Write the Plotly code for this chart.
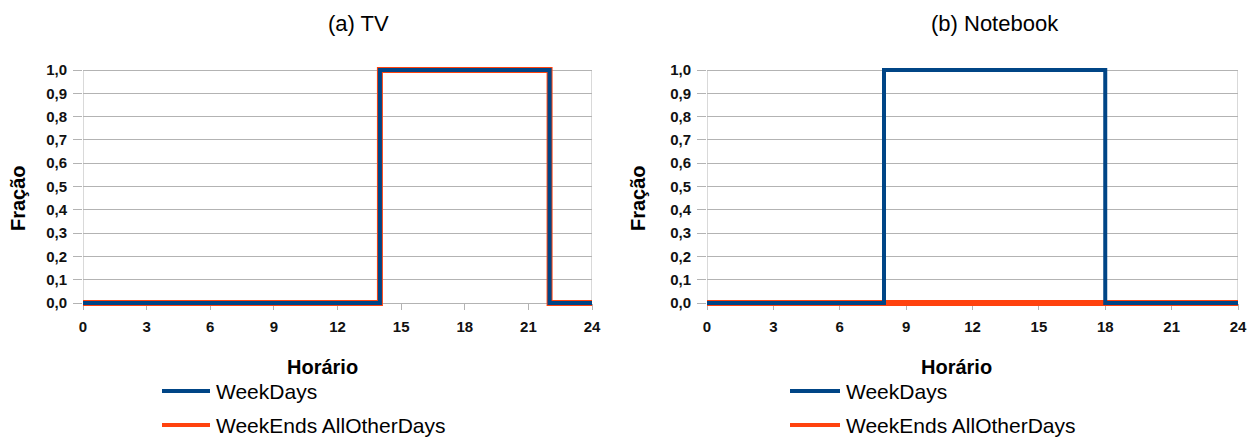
import plotly.graph_objects as go

hours = list(range(25))
tv_weekdays = [0]*14 + [1]*8 + [0]*2
tv_weekends = [0]*14 + [1]*8 + [0]*2
nb_weekdays = [0]*8 + [1]*10 + [0]*6
nb_weekends = [0]*24
# repeat last value so the step reaches hour 24
tv_weekdays.append(tv_weekdays[-1]); tv_weekends.append(tv_weekends[-1])
nb_weekdays.append(nb_weekdays[-1]); nb_weekends.append(nb_weekends[-1])

x_ticks = [0, 3, 6, 9, 12, 15, 18, 21, 24]
y_ticks = [0, 0.1, 0.2, 0.3, 0.4, 0.5, 0.6, 0.7, 0.8, 0.9, 1.0]
y_ticktext = ["0,0", "0,1", "0,2", "0,3", "0,4", "0,5", "0,6", "0,7", "0,8", "0,9", "1,0"]
titles = ["(a) TV", "(b) Notebook"]
series_names = ["WeekDays", "WeekEnds AllOtherDays"]

BLUE = "#004586"
ORANGE = "#ff420e"
GRID = "#b3b3b3"
W, H = 1259, 437
OFF = 8  # page body margin
FONT = "Liberation Sans, Arial, sans-serif"

fig = go.Figure()
fig.add_trace(go.Scatter(x=hours, y=tv_weekends, mode="lines", line=dict(color=ORANGE, width=6, shape="hv"),
                         xaxis="x", yaxis="y", showlegend=False))
fig.add_trace(go.Scatter(x=hours, y=tv_weekdays, mode="lines", line=dict(color=BLUE, width=4, shape="hv"),
                         xaxis="x", yaxis="y", showlegend=False))
fig.add_trace(go.Scatter(x=hours, y=nb_weekends, mode="lines", line=dict(color=ORANGE, width=6, shape="hv"),
                         xaxis="x2", yaxis="y2", showlegend=False))
fig.add_trace(go.Scatter(x=hours, y=nb_weekdays, mode="lines", line=dict(color=BLUE, width=4, shape="hv"),
                         xaxis="x2", yaxis="y2", showlegend=False))

def px_x(p):
    return (p - OFF) / W

def px_y(p):
    return 1 - (p - OFF) / H

Y0_PX, Y1_PX = 303, 70          # pixel rows of 0,0 and 1,0
PAD_PX = 5                      # room so thick lines at 0 and 1 are not clipped
pad = PAD_PX / (Y0_PX - Y1_PX)
ydom = [px_y(Y0_PX + PAD_PX), px_y(Y1_PX - PAD_PX)]

tickfont = dict(family=FONT, size=15, color="#111", weight="bold")
xcommon = dict(range=[0, 24], tickvals=x_ticks, ticks="outside", ticklen=6, tickcolor=GRID,
               showline=True, linecolor=GRID, linewidth=1, showgrid=False, zeroline=False,
               tickfont=tickfont, fixedrange=True, automargin=False, ticklabelstandoff=4,
               anchor="free", position=px_y(Y0_PX), layer="below traces")
ycommon = dict(range=[-pad, 1.0 + pad], tickvals=y_ticks, ticktext=y_ticktext, ticks="outside", ticklen=9,
               tickcolor=GRID, showline=False, showgrid=True,
               gridcolor=GRID, gridwidth=1, zeroline=False, layer="below traces",
               tickfont=tickfont, fixedrange=True, automargin=False, ticklabelstandoff=3)

fig.update_layout(
    width=W, height=H,
    autosize=False,
    margin=dict(l=0, r=0, t=0, b=0, pad=0, autoexpand=False),
    showlegend=False,
    paper_bgcolor="white", plot_bgcolor="white",
    xaxis=dict(domain=[px_x(83), px_x(592)], **xcommon),
    yaxis=dict(domain=ydom, anchor="x", **ycommon),
    xaxis2=dict(domain=[px_x(707), px_x(1238)], **xcommon),
    yaxis2=dict(domain=ydom, anchor="x2", **ycommon),
    font=dict(family=FONT),
)

shapes = []
annotations = []
for xr, yr in [("x", "y"), ("x2", "y2")]:
    # y axis line and right border of the plot area
    for xv in (0, 24):
        shapes.append(dict(type="line", xref=xr, yref=yr, x0=xv, x1=xv, y0=0, y1=1.0,
                           line=dict(color=GRID, width=1), layer="below"))

panels = [
    dict(title_x=358, horario_x=322, fracao_x=18, leg_x0=162, leg_x1=210, text_x=214),
    dict(title_x=995, horario_x=956, fracao_x=638, leg_x0=790, leg_x1=840, text_x=844),
]
for i, p in enumerate(panels):
    annotations.append(dict(text=titles[i], x=px_x(p["title_x"]), y=px_y(23), xref="paper", yref="paper",
                            showarrow=False, xanchor="center", yanchor="middle",
                            font=dict(family=FONT, size=22, color="#000")))
    annotations.append(dict(text="<b>Horário</b>", x=px_x(p["horario_x"]), y=px_y(367), xref="paper", yref="paper",
                            showarrow=False, xanchor="center", yanchor="middle",
                            font=dict(family=FONT, size=20, color="#000")))
    annotations.append(dict(text="<b>Fração</b>", x=px_x(p["fracao_x"]), y=px_y(198), xref="paper", yref="paper",
                            showarrow=False, xanchor="center", yanchor="middle", textangle=-90,
                            font=dict(family=FONT, size=20, color="#000")))
    for j, (name, col) in enumerate(zip(series_names, [BLUE, ORANGE])):
        ly = [391, 425][j]
        shapes.append(dict(type="line", xref="paper", yref="paper", x0=px_x(p["leg_x0"]), x1=px_x(p["leg_x1"]),
                           y0=px_y(ly), y1=px_y(ly), line=dict(color=col, width=4)))
        annotations.append(dict(text=name, x=px_x(p["text_x"]), y=px_y(ly), xref="paper", yref="paper",
                                showarrow=False, xanchor="left", yanchor="middle",
                                font=dict(family=FONT, size=21, color="#000")))

fig.update_layout(shapes=shapes, annotations=annotations)
fig.write_html("out.html", config={"displayModeBar": False})
